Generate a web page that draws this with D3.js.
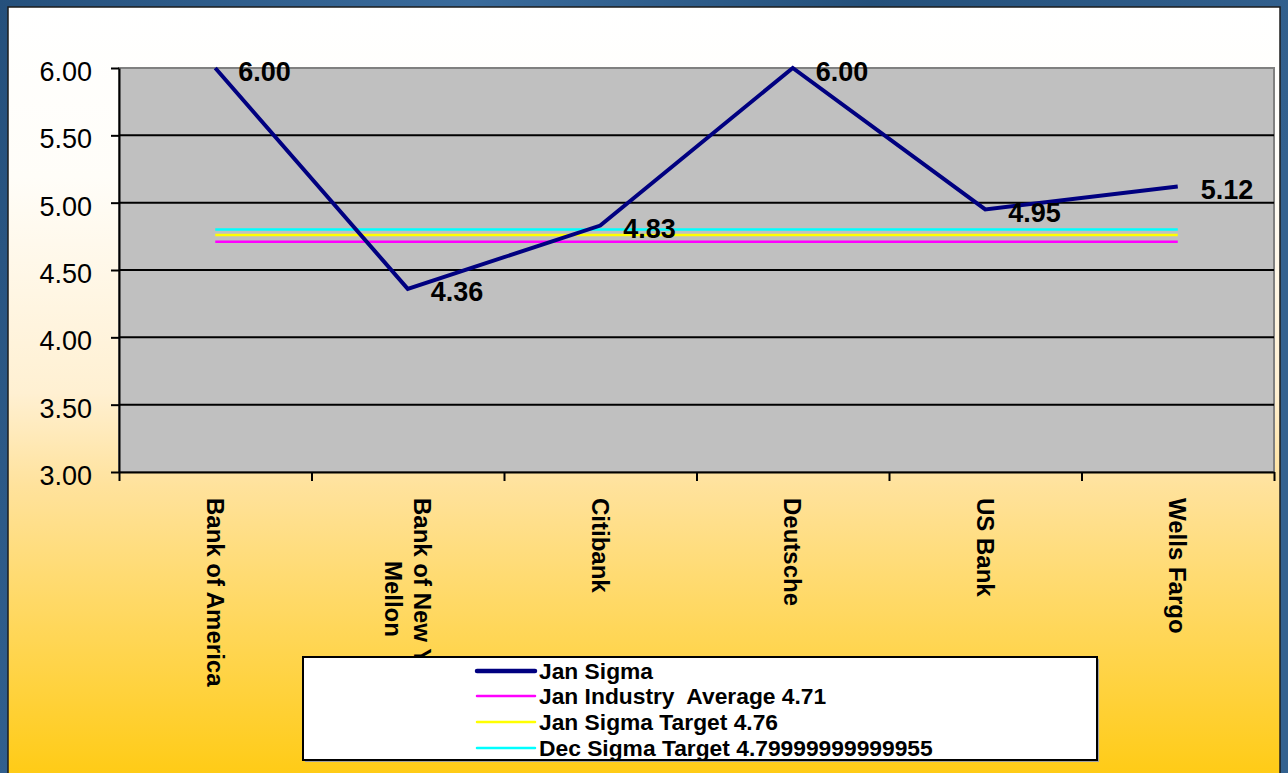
<!DOCTYPE html>
<html>
<head>
<meta charset="utf-8">
<script src="https://cdn.jsdelivr.net/npm/d3@7/dist/d3.min.js"></script>
<style>
  html, body { margin: 0; padding: 0; background: #2a5680; }
  svg { display: block; font-family: "Liberation Sans", Arial, sans-serif; }
</style>
</head>
<body>
<svg id="chart" width="1288" height="773"></svg>
<script>
// ---- data ----
const categories = ["Bank of America", "Bank of New York Mellon", "Citibank", "Deutsche", "US Bank", "Wells Fargo"];
const janSigma = [6.00, 4.36, 4.83, 6.00, 4.95, 5.12];
const janIndustryAverage = 4.71;
const janSigmaTarget = 4.76;
const decSigmaTarget = 4.79999999999955;
const yTicks = [3.00, 3.50, 4.00, 4.50, 5.00, 5.50, 6.00];
const legendLabels = ["Jan Sigma", "Jan Industry  Average 4.71", "Jan Sigma Target 4.76", "Dec Sigma Target 4.79999999999955"];
const refLevels = [janIndustryAverage, janSigmaTarget, decSigmaTarget];

// ---- layout ----
const W = 1288, H = 773;
const plot = { left: 119, right: 1274, top: 68, bottom: 472 };
const svg = d3.select("#chart");
const defs = svg.append("defs");

const blue = defs.append("linearGradient").attr("id", "blueBg").attr("x1", 0).attr("y1", 0).attr("x2", 1).attr("y2", 0.2);
blue.append("stop").attr("offset", "0%").attr("stop-color", "#25507c");
blue.append("stop").attr("offset", "35%").attr("stop-color", "#3a6b9c");
blue.append("stop").attr("offset", "65%").attr("stop-color", "#24507b");
blue.append("stop").attr("offset", "100%").attr("stop-color", "#33618f");

const gold = defs.append("linearGradient").attr("id", "goldBg").attr("x1", 0).attr("y1", 0).attr("x2", 0).attr("y2", 1);
gold.append("stop").attr("offset", "0%").attr("stop-color", "#ffffff");
gold.append("stop").attr("offset", "22%").attr("stop-color", "#fffdf8");
gold.append("stop").attr("offset", "50%").attr("stop-color", "#fff0d2");
gold.append("stop").attr("offset", "62%").attr("stop-color", "#ffe29c");
gold.append("stop").attr("offset", "100%").attr("stop-color", "#ffcb14");

svg.append("rect").attr("x", 0).attr("y", 0).attr("width", W).attr("height", H).attr("fill", "url(#blueBg)");
svg.append("rect").attr("x", 8).attr("y", 7).attr("width", 1272).attr("height", 772)
  .attr("fill", "url(#goldBg)").attr("stroke", "#1d1d1d").attr("stroke-width", 1.5);

// ---- scales ----
const x = d3.scaleBand().domain(categories).range([plot.left, plot.right]).padding(0);
const xc = d => x(d) + x.bandwidth() / 2;
const xEdge = d3.scaleLinear().domain([0, categories.length]).range([plot.left, plot.right]);
const y = d3.scaleLinear().domain([3, 6]).range([plot.bottom, plot.top]);

// plot area
svg.append("rect")
  .attr("x", plot.left).attr("y", plot.top)
  .attr("width", plot.right - plot.left).attr("height", plot.bottom - plot.top)
  .attr("fill", "#c0c0c0").attr("stroke", "#808080").attr("stroke-width", 2);

// gridlines
svg.append("g").selectAll("line")
  .data(yTicks.filter(t => t > 3 && t < 6))
  .join("line")
  .attr("x1", plot.left).attr("x2", plot.right)
  .attr("y1", d => y(d)).attr("y2", d => y(d))
  .attr("stroke", "#000").attr("stroke-width", 2);

// y axis
const yAxis = svg.append("g").attr("transform", `translate(${plot.left},0)`)
  .call(d3.axisLeft(y).tickValues(yTicks).tickFormat(d3.format(".2f")).tickSize(8).tickSizeOuter(0));
yAxis.select(".domain").attr("stroke", "#000").attr("stroke-width", 2);
yAxis.selectAll(".tick line").attr("stroke", "#000").attr("stroke-width", 2);
yAxis.selectAll(".tick text")
  .attr("x", -27).attr("dy", null).attr("y", 12.5)
  .attr("fill", "#000")
  .style("font-family", '"Liberation Sans", Arial, sans-serif')
  .style("font-size", "27px");

// x axis
const xAxis = svg.append("g").attr("transform", `translate(0,${plot.bottom})`)
  .call(d3.axisBottom(xEdge).tickValues(d3.range(categories.length + 1)).tickFormat("").tickSize(9).tickSizeOuter(0));
xAxis.select(".domain").attr("stroke", "#000").attr("stroke-width", 2);
xAxis.selectAll(".tick line").attr("stroke", "#000").attr("stroke-width", 2);

// category labels (rotated, wrapped)
const catFont = 24, catLineH = 29, catMax = 215;
const measurer = svg.append("text").style("font-size", catFont + "px").style("font-weight", "bold");
function wrap(str) {
  const words = str.split(" ");
  const lines = [];
  let cur = "";
  words.forEach(w => {
    const test = cur ? cur + " " + w : w;
    measurer.text(test);
    if (measurer.node().getComputedTextLength() > catMax && cur) { lines.push(cur); cur = w; }
    else cur = test;
  });
  if (cur) lines.push(cur);
  return lines;
}
const catG = svg.append("g");
categories.forEach(c => {
  const lines = wrap(c);
  const widths = lines.map(l => { measurer.text(l); return measurer.node().getComputedTextLength(); });
  const maxW = d3.max(widths);
  const g = catG.append("g").attr("transform", `translate(${xc(c)},498) rotate(90)`);
  lines.forEach((l, i) => {
    g.append("text")
      .attr("x", maxW / 2)
      .attr("y", (i - (lines.length - 1) / 2) * catLineH + 8.6)
      .attr("text-anchor", "middle")
      .style("font-size", catFont + "px").style("font-weight", "bold")
      .attr("fill", "#000")
      .text(l);
  });
});
measurer.remove();

// reference lines
const refColors = ["#ff00ff", "#ffff00", "#00ffff"];
svg.append("g").selectAll("line")
  .data(refLevels)
  .join("line")
  .attr("x1", xc(categories[0])).attr("x2", xc(categories[categories.length - 1]))
  .attr("y1", d => y(d)).attr("y2", d => y(d))
  .attr("stroke", (d, i) => refColors[i]).attr("stroke-width", 2.5);

// main line
const data = categories.map((c, i) => ({ c, v: janSigma[i] }));
svg.append("path")
  .datum(data)
  .attr("fill", "none").attr("stroke", "#000080").attr("stroke-width", 4)
  .attr("stroke-linejoin", "miter")
  .attr("d", d3.line().x(d => xc(d.c)).y(d => y(d.v)));

// data labels
svg.append("g").selectAll("text")
  .data(data)
  .join("text")
  .attr("x", d => xc(d.c) + 23)
  .attr("y", d => y(d.v) + 12.5)
  .style("font-size", "27px").style("font-weight", "bold")
  .attr("fill", "#000")
  .text(d => d3.format(".2f")(d.v));

// legend
const lg = svg.append("g");
lg.append("rect").attr("x", 305).attr("y", 659).attr("width", 794).attr("height", 103).attr("fill", "#a0a0a0");
lg.append("rect").attr("x", 303).attr("y", 657).attr("width", 794).attr("height", 103)
  .attr("fill", "#ffffff").attr("stroke", "#000").attr("stroke-width", 2);
const legColors = ["#000080", "#ff00ff", "#ffff00", "#00ffff"];
const legWidths = [4.5, 2.5, 2.5, 2.5];
const rowY = [671, 696, 722, 748];
legendLabels.forEach((t, i) => {
  lg.append("line").attr("x1", 477).attr("x2", 535).attr("y1", rowY[i]).attr("y2", rowY[i])
    .attr("stroke", legColors[i]).attr("stroke-width", legWidths[i]).attr("stroke-linecap", "round");
  lg.append("text").attr("x", 539).attr("y", rowY[i] + 8)
    .style("font-size", "22.8px").style("font-weight", "bold").style("white-space", "pre")
    .attr("fill", "#000")
    .text(t);
});
</script>
</body>
</html>
